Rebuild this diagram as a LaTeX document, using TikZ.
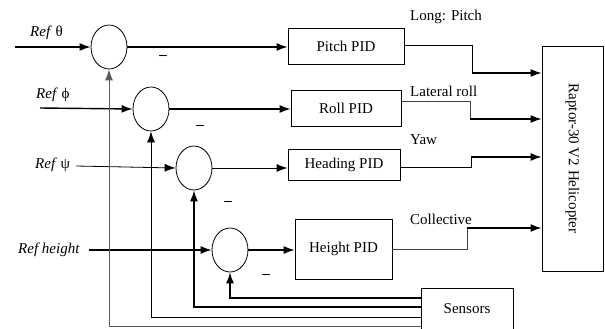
\documentclass[tikz,border=0pt]{standalone}
\usepackage{fontspec}
\setmainfont{Liberation Serif}
\usetikzlibrary{shapes.geometric,arrows.meta}
\begin{document}
\begin{tikzpicture}[x=1pt,y=-1pt,
  every node/.style={font=\fontsize{15}{17}\selectfont},
  sumnode/.style={ellipse,draw,line width=0.8pt,minimum width=36pt,minimum height=44pt,inner sep=0pt},
  pidbox/.style={rectangle,draw,line width=0.8pt,inner sep=0pt},
  thk/.style={line width=1.4pt},
  thn/.style={line width=0.8pt},
  arr/.style={-{Latex[length=11pt,width=8pt]}},
  lbl/.style={inner sep=0pt,anchor=west},
  minus/.style={inner sep=0pt,font=\bfseries\fontsize{15}{17}\selectfont}]
\useasboundingbox (0,0) rectangle (605,329);
% summing junctions
\node[sumnode] (c1) at (109,47) {};
\node[sumnode] (c2) at (151,109) {};
\node[sumnode] (c3) at (194,168) {};
\node[sumnode] (c4) at (230,250) {};
% PID boxes
\node[pidbox,minimum width=116pt,minimum height=36pt] (pitch) at (346,46) {Pitch PID};
\node[pidbox,minimum width=110pt,minimum height=36pt] (roll) at (346,108) {Roll PID};
\node[pidbox,minimum width=112pt,minimum height=31pt] (heading) at (344,164.5) {Heading PID};
\node[pidbox,minimum width=97pt,minimum height=60pt] (height) at (343.5,249) {Height PID};
\node[pidbox,minimum width=61pt,minimum height=225pt] (heli) at (572.5,158.5) {};
\node[rotate=-90] (helit) at (heli.center) {Raptor-30 V2 Helicopter};
\node[pidbox,minimum width=92pt,minimum height=50pt] (sensors) at (467,313) {};
\node (senst) at (467,309) {Sensors};
% reference labels
\node[lbl] (rt) at (30,33) {\textit{Ref} θ};
\node[lbl] (rp) at (36,95) {\textit{Ref} ϕ};
\node[lbl] (rs) at (35,165) {\textit{Ref} ψ};
\node[lbl] (rh) at (18,250) {\textit{Ref height}};
% input start points
\coordinate (it) at (15,47);
\coordinate (ip) at (40,108);
\coordinate (is) at (76,166);
\coordinate (ih) at (89,250);
\draw[thk,arr] (it) -- (c1.west);
\draw[thk,arr] (ip) -- (c2.west);
\draw[thn,arr] (is) -- (c3.west);
\draw[thk,arr] (ih) -- (c4.west);
% junction to PID
\draw[thk,arr] (c1.east) -- (c1 -| pitch.west);
\draw[thk,arr] (c2.east) -- (c2 -| roll.west);
\draw[thn,arr] (c3.east) -- (c3 -| heading.west);
\draw[thk,arr] (c4.east) -- (c4 -| height.west);
% minus signs
\node[minus] (m1) at (163,57) {–};
\node[minus] (m2) at (200,127) {–};
\node[minus] (m3) at (228,203) {–};
\node[minus] (m4) at (266,276) {–};
% PID outputs
\coordinate (po) at (404,45);
\coordinate (pj) at (472,73);
\coordinate (ro) at (401,101);
\coordinate (rj) at (470,119);
\coordinate (ho) at (400,167);
\coordinate (hj) at (471,157);
\coordinate (eo) at (392,249);
\coordinate (ej) at (467,228);
\draw[thn] (po) -| (pj);
\draw[thk,arr] (pj) -- (pj -| heli.west);
\draw[thn,black!75] (ro) -| (rj);
\draw[thk,arr] (rj) -- (rj -| heli.west);
\draw[thn] (ho) -| (hj);
\draw[thk,arr] (hj) -- (hj -| heli.west);
\draw[thn,black!75] (eo) -| (ej);
\draw[thk,arr] (ej) -- (ej -| heli.west);
% output labels
\node[lbl] (l1) at (410,17) {Long: Pitch};
\node[lbl] (l2) at (410,91) {Lateral roll};
\node[lbl] (l3) at (410,140) {Yaw};
\node[lbl] (l4) at (410,219) {Collective};
% feedback
\coordinate (f4) at (421,298);
\coordinate (f3) at (421,307);
\coordinate (f2) at (421,317);
\coordinate (f1) at (421,326);
\draw[thk,arr] (f4) -| (c4.south);
\draw[thk,arr] (f3) -| (c3.south);
\draw[thn,arr] (f2) -| (c2.south);
\draw[line width=1pt,black!65,arr] (f1) -| (c1.south);
\end{tikzpicture}
\end{document}
